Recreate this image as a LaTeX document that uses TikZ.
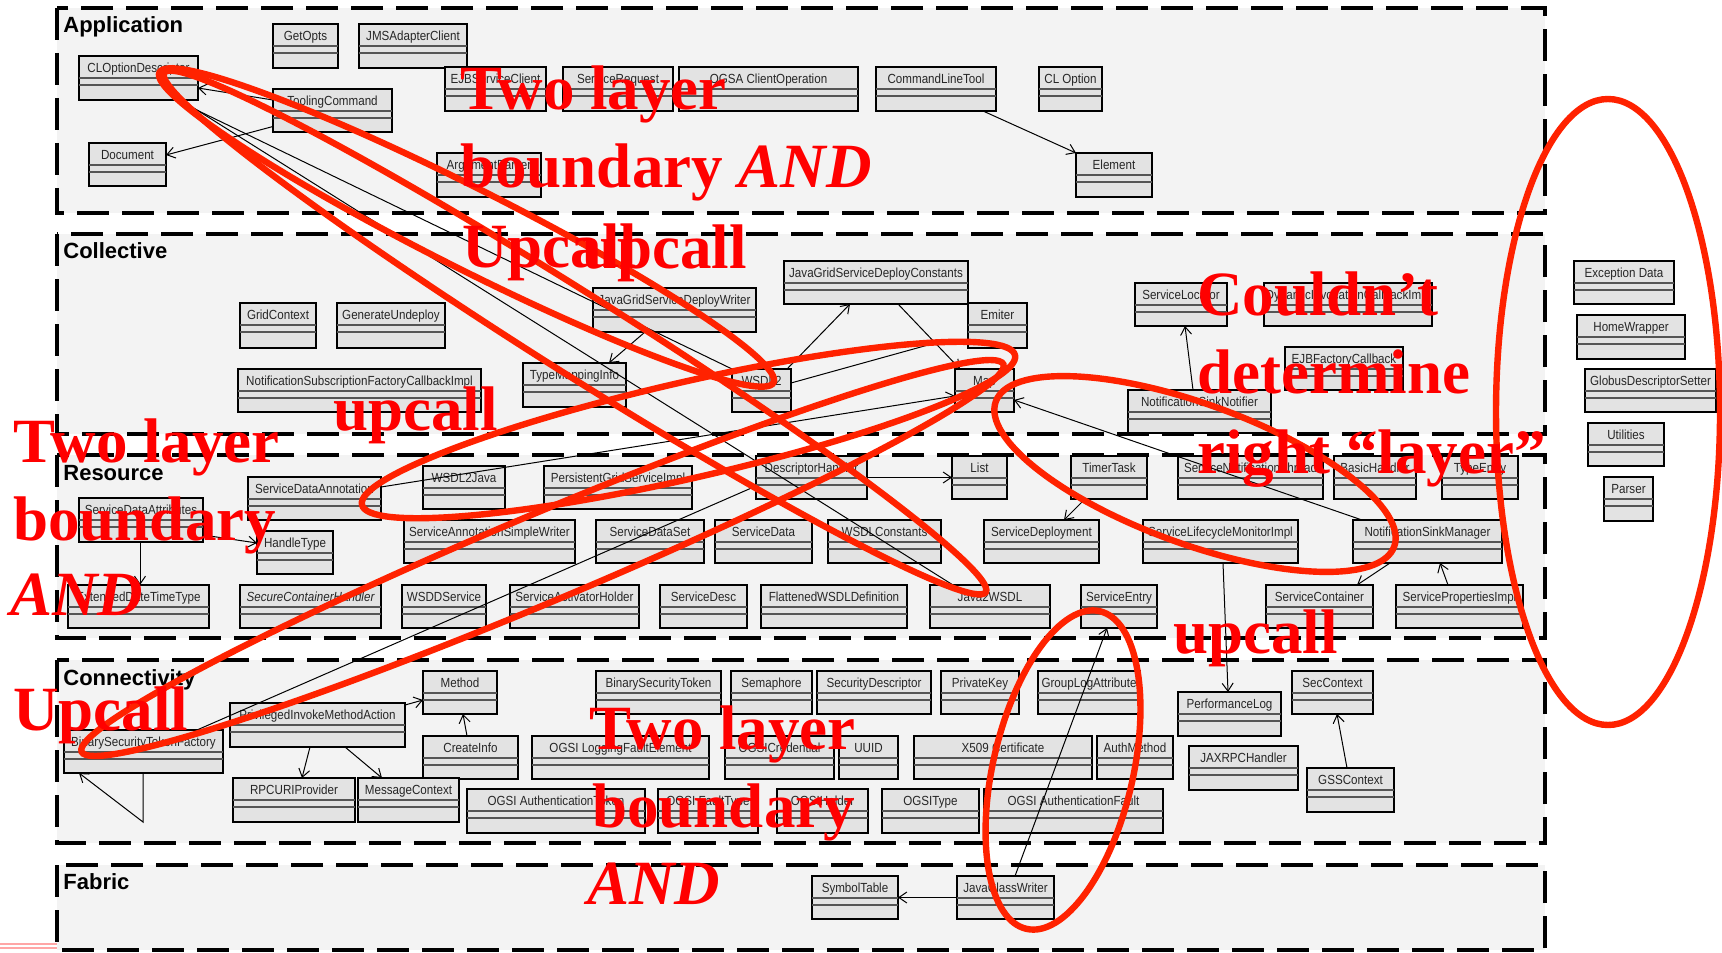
\documentclass[tikz,border=0pt]{standalone}
\usepackage{fontspec}
\usetikzlibrary{arrows.meta,calc}
\newfontfamily\clsfont[FakeStretch=0.88]{Liberation Sans}
\newfontfamily\layfont{Liberation Sans}
\newfontfamily\redfont{Liberation Serif}
\definecolor{boxfill}{HTML}{E3E3E3}
\definecolor{layfill}{HTML}{F3F3F3}
\definecolor{ringred}{HTML}{FF2200}
\definecolor{txtred}{HTML}{FF0000}
\definecolor{sepgray}{HTML}{555555}
\tikzset{
 clsbox/.style={draw=black, line width=1pt, fill=boxfill, inner sep=0pt, outer sep=0pt, rectangle},
 clssep/.style={draw=sepgray, line width=0.55pt},
 clslabel/.style={inner sep=0pt, anchor=base, font=\clsfont\fontsize{6.6}{7}\selectfont, text=black!85},
 layer/.style={draw=black, line width=2pt, dash pattern=on 16pt off 6.5pt, fill=layfill},
 laylabel/.style={inner sep=0pt, anchor=base west, font=\layfont\bfseries\fontsize{11}{12}\selectfont},
 conn/.style={draw=black, line width=0.5pt},
 arr/.style={conn, -{Straight Barb[length=4pt,width=5.5pt,line width=0.5pt]}},
 ring/.style={draw=ringred, line width=3.2pt},
 note/.style={inner sep=0pt, anchor=base west, text=txtred, font=\redfont\bfseries\fontsize{31.5}{39}\selectfont},
}
\newcommand\cls[6]{%
 \node[clsbox, minimum width={(#4-#2)*0.5pt}, minimum height={(#5-#3)*0.5pt}, anchor=north west] (#1) at (#2,#3) {};
 \draw[clssep] ([yshift=-11pt]#1.north west) -- ([yshift=-11pt]#1.north east);
 \draw[clssep] ([yshift=-14.5pt]#1.north west) -- ([yshift=-14.5pt]#1.north east);
 \node[clslabel] (#1-t) at ([yshift=-8.35pt]#1.north) {#6};
}
\begin{document}
\begin{tikzpicture}[x=0.5pt,y=-0.5pt]
\useasboundingbox (0,0) rectangle (1722,952);
\fill[white] (0,0) rectangle (1722,952);
% layers
\draw[layer] (57,8) rectangle (1545,213);
\draw[layer] (57,234) rectangle (1545,434);
\draw[layer] (57,455) rectangle (1545,638);
\draw[layer] (57,660) rectangle (1545,843);
\draw[layer] (57,865) rectangle (1545,950);
\node[laylabel] (l-app) at (63,33) {Application};
\node[laylabel] (l-col) at (63,258) {Collective};
\node[laylabel] (l-res) at (63,480) {Resource};
\node[laylabel] (l-con) at (63,685) {Connectivity};
\node[laylabel] (l-fab) at (63,889) {Fabric};
\draw[red!35, line width=0.6pt] (0,944) -- (57,944);
\draw[red!35, line width=0.6pt] (0,948) -- (57,948);
% Application
\cls{getopts}{273}{24}{338}{68}{GetOpts}
\cls{jms}{359}{24}{467}{68}{JMSAdapterClient}
\cls{clopt}{79}{56}{198}{100}{CLOptionDescriptor}
\cls{tool}{273}{89}{392}{132}{ToolingCommand}
\cls{doc}{89}{143}{166}{186}{Document}
\cls{ejb}{445}{67}{546}{111}{EJBServiceClient}
\cls{sreq}{563}{67}{673}{111}{ServiceRequest}
\cls{ogsaco}{679}{67}{858}{111}{OGSA ClientOperation}
\cls{argp}{437}{153}{541}{197}{ArgumentParser}
\cls{clt}{876}{67}{996}{111}{CommandLineTool}
\cls{clo}{1039}{67}{1102}{111}{CL Option}
\cls{elem}{1076}{153}{1152}{197}{Element}
% Collective
\cls{gridctx}{240}{303}{316}{348}{GridContext}
\cls{genund}{337}{303}{445}{348}{GenerateUndeploy}
\cls{nsfci}{238}{369}{481}{412}{NotificationSubscriptionFactoryCallbackImpl}
\cls{tmi}{523}{363}{626}{407}{TypeMappingInfo}
\cls{jgsdw}{593}{288}{756}{332}{JavaGridServiceDeployWriter}
\cls{jgsdc}{784}{261}{968}{304}{JavaGridServiceDeployConstants}
\cls{emiter}{968}{303}{1027}{348}{Emiter}
\cls{wsdl2}{732}{369}{791}{412}{WSDL2}
\cls{map}{955}{369}{1014}{412}{Map}
\cls{svcloc}{1135}{283}{1227}{326}{ServiceLocator}
\cls{dyn}{1264}{283}{1432}{326}{DynamicInvocationCallbackImpl}
\cls{ejbfc}{1285}{347}{1403}{390}{EJBFactoryCallback}
\cls{nsn}{1128}{390}{1271}{433}{NotificationSinkNotifier}
% Resource
\cls{sdattr}{79}{498}{203}{542}{ServiceDataAttributes}
\cls{sdann}{248}{477}{381}{520}{ServiceDataAnnotation}
\cls{handle}{257}{531}{333}{574}{HandleType}
\cls{edt}{68}{585}{209}{628}{ExtendedDateTimeType}
\cls{sch}{240}{585}{381}{628}{\itshape SecureContainerHandler}
\cls{wsdd}{402}{585}{486}{628}{WSDDService}
\cls{sah}{510}{585}{639}{628}{ServiceActivatorHolder}
\cls{sdesc}{660}{585}{747}{628}{ServiceDesc}
\cls{fwsdl}{761}{585}{907}{628}{FlattenedWSDLDefinition}
\cls{j2w}{930}{585}{1050}{628}{Java2WSDL}
\cls{sentry}{1081}{585}{1157}{628}{ServiceEntry}
\cls{scont}{1266}{585}{1373}{628}{ServiceContainer}
\cls{sprop}{1396}{585}{1523}{628}{ServicePropertiesImpl}
\cls{sasw}{404}{520}{575}{563}{ServiceAnnotationSimpleWriter}
\cls{pgsi}{544}{466}{692}{509}{PersistentGridServiceImpl}
\cls{w2j}{423}{466}{505}{509}{WSDL2Java}
\cls{dh}{756}{456}{867}{499}{DescriptorHandler}
\cls{sdset}{596}{520}{704}{563}{ServiceDataSet}
\cls{sdata}{715}{520}{812}{563}{ServiceData}
\cls{wconst}{828}{520}{941}{563}{WSDLConstants}
\cls{list}{952}{456}{1007}{499}{List}
\cls{timer}{1071}{456}{1147}{499}{TimerTask}
\cls{snt}{1178}{456}{1323}{499}{ServiceNotificationThread}
\cls{bh}{1334}{456}{1416}{499}{BasicHandler}
\cls{tentry}{1442}{456}{1518}{499}{TypeEntry}
\cls{sdep}{984}{520}{1099}{563}{ServiceDeployment}
\cls{slmi}{1143}{520}{1298}{563}{ServiceLifecycleMonitorImpl}
\cls{nsm}{1353}{520}{1502}{563}{NotificationSinkManager}
% Connectivity
\cls{bstf}{64}{730}{223}{773}{BinarySecurityTokenFactory}
\cls{pima}{230}{703}{405}{747}{PrivilegedInvokeMethodAction}
\cls{method}{423}{671}{497}{714}{Method}
\cls{cinfo}{423}{736}{518}{779}{CreateInfo}
\cls{rpc}{233}{778}{355}{822}{RPCURIProvider}
\cls{msgctx}{358}{778}{459}{822}{MessageContext}
\cls{bst}{596}{671}{721}{714}{BinarySecurityToken}
\cls{sem}{731}{671}{812}{714}{Semaphore}
\cls{secdesc}{817}{671}{931}{714}{SecurityDescriptor}
\cls{pkey}{941}{671}{1019}{714}{PrivateKey}
\cls{glog}{1038}{671}{1140}{714}{GroupLogAttribute}
\cls{olfe}{532}{736}{709}{779}{OGSI LoggingFaultElement}
\cls{ocred}{725}{736}{834}{779}{OGSICredential}
\cls{uuid}{839}{736}{898}{779}{UUID}
\cls{x509}{914}{736}{1092}{779}{X509 Certificate}
\cls{auth}{1097}{736}{1173}{779}{AuthMethod}
\cls{oat}{467}{789}{645}{833}{OGSI AuthenticationToken}
\cls{oft}{658}{789}{758}{833}{OGSI FaultType}
\cls{oholder}{777}{789}{868}{833}{OGSIHolder}
\cls{otype}{882}{789}{979}{833}{OGSIType}
\cls{oaf}{984}{789}{1163}{833}{OGSI AuthenticationFault}
\cls{perf}{1178}{692}{1281}{736}{PerformanceLog}
\cls{jaxrpc}{1189}{746}{1298}{790}{JAXRPCHandler}
\cls{secctx}{1292}{671}{1373}{714}{SecContext}
\cls{gss}{1307}{768}{1394}{812}{GSSContext}
% Fabric
\cls{symtab}{812}{876}{898}{919}{SymbolTable}
\cls{jcw}{957}{876}{1054}{919}{JavaClassWriter}
% outside
\cls{exdata}{1574}{261}{1674}{304}{Exception Data}
\cls{homew}{1577}{315}{1685}{359}{HomeWrapper}
\cls{gds}{1585}{369}{1716}{412}{GlobusDescriptorSetter}
\cls{util}{1588}{423}{1664}{466}{Utilities}
\cls{parser}{1604}{477}{1653}{521}{Parser}
% connectors
\draw[arr] ([yshift=5.25pt]tool.west) -- ([yshift=-5pt]clopt.east);
\draw[arr] ([yshift=-8pt]tool.west) -- ([yshift=4.75pt]doc.east);
\draw[arr] ([xshift=11.5pt]j2w.north west) -- ([xshift=-8.5pt]clopt.south east);
\draw[conn] (wsdl2.north west) -- ([xshift=-11pt]clopt.south east);
\draw[arr] ([xshift=-6.5pt]clt.south east) -- (elem.north west);
\draw[arr] ([xshift=26pt]jgsdw.south west) -- ([xshift=43pt]tmi.north west);
\draw[arr] ([xshift=-2pt]wsdl2.north east) -- ([xshift=33pt]jgsdc.south west);
\draw[arr] ([xshift=57pt]jgsdc.south west) -- ([xshift=2.5pt]map.north west);
\coordinate (jn) at ($([xshift=57pt]jgsdc.south west)!0.6!([xshift=2.5pt]map.north west)$);
\draw[conn] ([yshift=3.75pt]wsdl2.east) -- (jn);
\draw[arr] ([yshift=5.75pt]sdann.east) -- ([yshift=-2.75pt]map.west);
\draw[arr] ([xshift=4.5pt]nsm.north west) -- ([yshift=-4.75pt]map.east);
\draw[arr] ([xshift=32.5pt]nsn.north west) -- ([xshift=25pt]svcloc.south west);
\draw[arr] ([xshift=7pt]timer.south west) -- ([xshift=40pt]sdep.north west);
\draw[arr] (dh.east) -- (list.west);
\draw[conn] ([xshift=66.5pt]bstf.north west) -- ([yshift=-4.25pt]dh.west);
\draw[arr] ([yshift=-7.5pt]sdattr.east) -- ([yshift=4.75pt]handle.west);
\draw[arr] ([xshift=30.5pt]sdattr.south west) -- ([xshift=36pt]edt.north west);
\draw[arr] ([xshift=18.5pt]nsm.south west) -- ([xshift=45.5pt]scont.north west);
\draw[arr] ([xshift=26pt]sprop.north west) -- ([xshift=43.5pt]nsm.south west);
\draw[arr] ([xshift=40pt]slmi.south west) -- ([xshift=25pt]perf.north west);
\draw[arr] ([yshift=10pt]pima.east) -- ([yshift=-3.75pt]method.west);
\draw[arr] ([xshift=40pt]pima.south west) -- ([xshift=34.5pt]rpc.north west);
\draw[arr] ([xshift=57.5pt]pima.south west) -- ([xshift=12pt]msgctx.north west);
\draw[arr] ([xshift=22pt]cinfo.north west) -- ([xshift=20pt]method.south west);
\coordinate (loopc) at ($(bstf.south west)+(79,49)$);
\draw[arr] ([xshift=39.5pt]bstf.south west) -- (loopc) -- ([xshift=7.5pt]bstf.south west);
\draw[arr] ([xshift=29pt]jcw.north west) -- ([xshift=13pt]sentry.south west);
\draw[arr] (jcw.west) -- (symtab.east);
\draw[arr] ([xshift=20pt]gss.north west) -- ([xshift=22.5pt]secctx.south west);
% red rings
\draw[ring, rotate around={-26.8:(466.5,227.5)}] (466.5,227.5) ellipse [x radius=172pt, y radius=20pt];
\draw[ring, rotate around={-32.3:(575,332.5)}] (575,332.5) ellipse [x radius=243pt, y radius=20pt];
\draw[ring, rotate around={12.9:(688.5,430)}] (688.5,430) ellipse [x radius=167.5pt, y radius=24pt];
\draw[ring, rotate around={22.8:(542.5,558)}] (542.5,558) ellipse [x radius=250pt, y radius=22pt];
\draw[ring, rotate around={-20:(1195,474)}] (1195,474) ellipse [x radius=106pt, y radius=35pt];
\draw[ring] (1608,412) ellipse [x radius=56pt, y radius=156.5pt];
\draw[ring, rotate around={-13:(1063,770)}] (1063,770) ellipse [x radius=35pt, y radius=81.5pt];
% red notes
\node[note] (n1a) at (460,110) {Two layer};
\node[note] (n1b) at (460,188) {boundary \textit{AND}};
\node[note] (n1c) at (462,267) {Upcall};
\node[note] (n2) at (582,268) {upcall};
\node[note] (n3) at (333,430) {upcall};
\node[note] (n4a) at (13,462) {Two layer};
\node[note] (n4b) at (13,540) {boundary};
\node[note] (n4c) at (10,615) {\textit{AND}};
\node[note] (n5) at (13,730) {Upcall};
\node[note] (n6a) at (589,749) {Two layer};
\node[note] (n6b) at (592,827) {boundary};
\node[note] (n6c) at (587,904) {\textit{AND}};
\node[note] (n7a) at (1197,315) {Couldn’t};
\node[note] (n7b) at (1197,393) {determine};
\node[note] (n7c) at (1197,473) {right “layer”};
\node[note] (n8) at (1173,653) {upcall};
\end{tikzpicture}
\end{document}
